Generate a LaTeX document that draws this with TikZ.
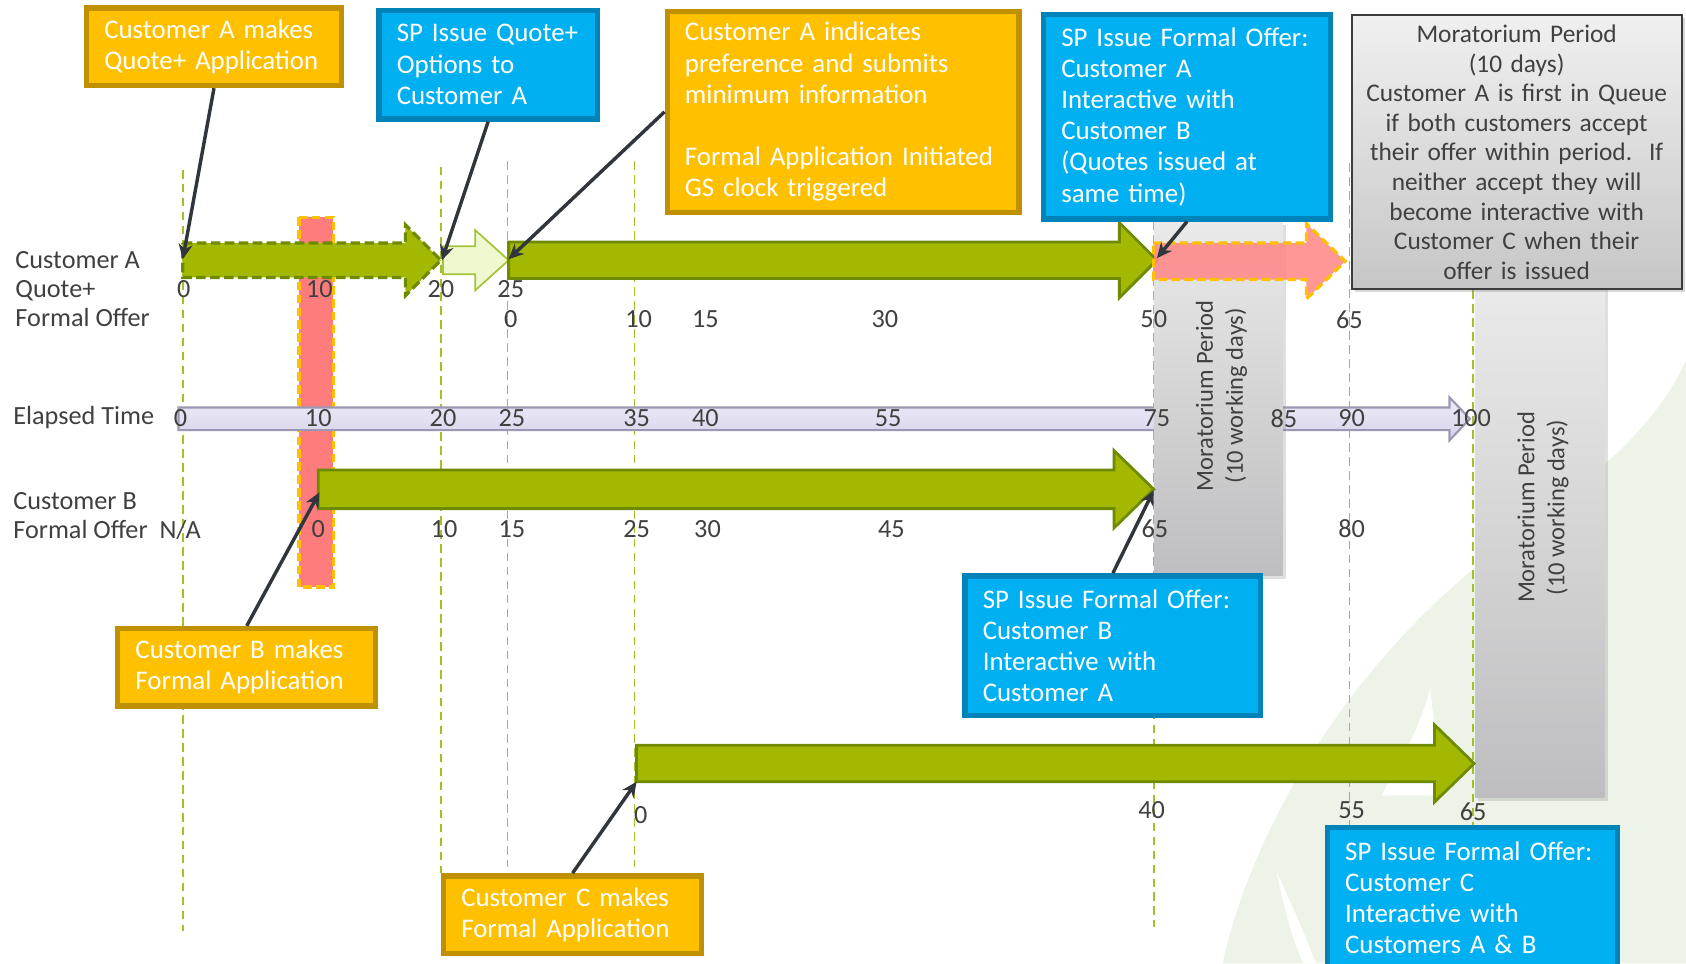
\documentclass[tikz,border=0pt]{standalone}
\usepackage{fontspec}
\setmainfont{Carlito}
\usetikzlibrary{arrows.meta,shadows}
\definecolor{orfill}{HTML}{FFC000}
\definecolor{ordraw}{HTML}{BF9000}
\definecolor{blfill}{HTML}{00B0F0}
\definecolor{bldraw}{HTML}{0083B8}
\definecolor{grfill}{HTML}{A3B800}
\definecolor{grdraw}{HTML}{6E8A00}
\definecolor{palefill}{HTML}{EEF9CF}
\definecolor{paledraw}{HTML}{A6C23A}
\definecolor{txt}{HTML}{404040}
\definecolor{vline}{HTML}{A2BF2C}
\definecolor{redbar}{HTML}{FF7C7C}
\definecolor{pinkarr}{HTML}{FF8585}
\definecolor{lavtop}{HTML}{EEECF8}
\definecolor{lavbot}{HTML}{D6D3EA}
\definecolor{lavdraw}{HTML}{9C98B4}
\definecolor{conncol}{HTML}{30363C}
\definecolor{leaf}{HTML}{EDF3E6}
\definecolor{coltop}{HTML}{EAEAEA}
\definecolor{colbot}{HTML}{BEBEC0}
\definecolor{gbtop}{HTML}{F0F0F0}
\definecolor{gbbot}{HTML}{C6C6C6}
\definecolor{gbdraw}{HTML}{3C3C3C}

% block arrow: [options]{start x}{centre y}{body half}{head base x}{head half}{tip x}
\newcommand\blockarrow[7][]{%
  \draw[#1] (#2,#3-#4) -- (#5,#3-#4) -- (#5,#3-#6) -- (#7,#3) -- (#5,#3+#6) -- (#5,#3+#4) -- (#2,#3+#4) -- cycle;}

\tikzset{
  callout/.style={line width=2.5pt, inner xsep=8.25pt, inner ysep=0pt, align=left,
    text=white, font=\fontsize{12.5}{14.5}\selectfont},
  obox/.style={callout, fill=orfill, draw=ordraw},
  bbox/.style={callout, fill=blfill, draw=bldraw},
  conn/.style={conncol, line width=1.6pt, -{Stealth[length=7pt,width=6.5pt]}},
  num/.style={text=txt, font=\fontsize{12.2}{13.5}\selectfont, inner sep=0pt},
  lbl/.style={text=txt, font=\fontsize{12.2}{13.5}\selectfont, inner sep=0pt, align=left, anchor=west},
  rot/.style={text=txt, font=\fontsize{11.4}{14}\selectfont, inner sep=0pt, align=center, rotate=90},
  vdash/.style={vline, line width=0.75pt, dash pattern=on 4pt off 2.5pt},
  garrow/.style={fill=grfill, draw=grdraw, line width=1.3pt, line join=miter},
  column/.style={top color=coltop, bottom color=colbot, draw=none,
    drop shadow={opacity=0.25, shadow xshift=1.5pt, shadow yshift=-1.5pt}},
}

\begin{document}
\begin{tikzpicture}[x=0.5pt,y=-0.5pt]
\fill[white] (0,0) rectangle (1568,896);
\useasboundingbox (0,0) rectangle (1568,896);

% faint leaf watermark
\fill[leaf] (1137,896) .. controls (1165,770) and (1250,630) .. (1367,532)
  .. controls (1440,470) and (1530,420) .. (1568,335) -- (1568,896) -- cycle;
\fill[white] (1330,640) .. controls (1320,680) and (1300,710) .. (1285,740)
  -- (1345,740) .. controls (1338,700) and (1333,670) .. cycle;
\fill[white] (1187,810) .. controls (1195,850) and (1203,875) .. (1212,896)
  -- (1224,896) .. controls (1210,860) and (1196,830) .. cycle;

% vertical dashed guide lines
\draw[vdash] (170,158) -- (170,866);
\draw[vdash] (410,155) -- (410,812);
\draw[vdash] (472,150) -- (472,806);
\draw[vdash] (590,150) -- (590,806);
\draw[vdash] (1073,206) -- (1073,862);
\draw[vdash] (1255,152) -- (1255,768);
\draw[vdash] (1370,270) -- (1370,770);

% red bar at elapsed 10
\draw[fill=redbar, draw=orfill, line width=1.5pt, dash pattern=on 4pt off 2pt] (278,202) rectangle (310,546);

% elapsed time bar
\blockarrow[top color=lavtop, bottom color=lavbot, draw=lavdraw, line width=1pt]{166}{389.5}{10.5}{1348}{20}{1367}

% moratorium columns
\path[column] (1073,206) rectangle (1193,535);
\path[column] (1372,265) rectangle (1492,742);

% customer A arrows
\blockarrow[garrow, dash pattern=on 4.5pt off 2pt, line width=1.5pt]{170}{242}{16}{377}{33}{410}
\blockarrow[fill=palefill, draw=paledraw, line width=0.8pt]{412}{242}{13}{442}{28}{473}
\blockarrow[garrow]{473}{242}{17}{1041}{35}{1076}
\blockarrow[fill=pinkarr, fill opacity=0.85, draw=orfill, line width=1.5pt, dash pattern=on 4pt off 2pt]{1073}{243}{17}{1215}{35}{1251}
% customer B arrow
\blockarrow[garrow]{296}{455}{18}{1036}{36}{1073}
% customer C arrow
\blockarrow[garrow]{592}{710}{17}{1334}{36}{1371}

% row labels
\node[lbl] (labA) at (14,269) {Customer A\\Quote+\\Formal Offer};
\node[lbl] (labT) at (12,388) {Elapsed Time};
\node[lbl] (labB) at (12,479.5) {Customer B\\Formal Offer\ \ N/A};

% numbers
\foreach \x/\t [count=\i] in {171/0,297/10,410/20,475/25}
  \node[num] (na\i) at (\x,269) {\t};
\foreach \x/\t [count=\i] in {475/0,594/10,656/15,823/30,1073/50,1255/65}
  \node[num] (nf\i) at (\x,297) {\t};
\foreach \x/\t [count=\i] in {168/0,296/10,412/20,476/25,592/35,656/40,826/55,1076/75,1194/85,1257/90,1368/100}
  \node[num] (ne\i) at (\x,389) {\t};
\foreach \x/\t [count=\i] in {296/0,413/10,476/15,592/25,658/30,829/45,1074/65,1257/80}
  \node[num] (nb\i) at (\x,492) {\t};
\node[num] (nc1) at (596,758) {0};
\node[num] (nc2) at (1071,753) {40};
\node[num] (nc3) at (1257,753) {55};
\node[num] (nc4) at (1370,755) {65};

% rotated moratorium texts
\node[rot] (mor1) at (1136,368) {Moratorium Period\\(10 working days)};
\node[rot] (mor2) at (1435,472) {Moratorium Period\\(10 working days)};

% callout boxes
\node[obox, minimum width=118.5pt, minimum height=36pt, text width=102pt] (o1) at (199,43.5)
  {Customer A makes\\Quote+ Application};
\node[bbox, minimum width=101.5pt, minimum height=50.5pt, text width=85pt] (b1) at (454,60)
  {SP Issue Quote+\\Options to\\Customer A};
\node[obox, minimum width=163.5pt, minimum height=93.5pt, text width=147pt] (o2) at (784,104)
  {Customer A indicates\\preference and submits\\minimum information\\[14.5pt]Formal Application Initiated\\GS clock triggered};
\node[bbox, minimum width=133.5pt, minimum height=95pt, text width=117pt] (b2) at (1104,108.5)
  {SP Issue Formal Offer:\\Customer A\\Interactive with\\Customer B\\(Quotes issued at\\same time)};
\node[obox, minimum width=120pt, minimum height=36pt, text width=103.5pt] (o3) at (229.5,620.5)
  {Customer B makes\\Formal Application};
\node[obox, minimum width=120pt, minimum height=36pt, text width=103.5pt] (o4) at (532.5,850.5)
  {Customer C makes\\Formal Application};
\node[bbox, minimum width=137.5pt, minimum height=65pt, text width=121pt] (b3) at (1035,600.5)
  {SP Issue Formal Offer:\\Customer B\\Interactive with\\Customer A};
\node[bbox, minimum width=135pt, minimum height=65.5pt, text width=118.5pt] (b4) at (1369.5,835)
  {SP Issue Formal Offer:\\Customer C\\Interactive with\\Customers A \& B};

% moratorium explanation box
\node[draw=gbdraw, line width=1pt, top color=gbtop, bottom color=gbbot,
  drop shadow={opacity=0.3, shadow xshift=1.5pt, shadow yshift=-1.5pt},
  minimum width=153.5pt, minimum height=127.5pt, text width=150pt, inner xsep=1.75pt, inner ysep=0pt,
  align=center, text=txt, font=\fontsize{11.8}{13.75}\selectfont] (g1) at (1410.5,141.5)
  {Moratorium Period\\(10 days)\\Customer A is first in Queue\\if both customers accept\\their offer within period.\ \ If\\neither accept they will\\become interactive with\\Customer C when their\\offer is issued};

% connector end points
\coordinate (pA0) at (170,241);
\coordinate (pA20) at (411,242);
\coordinate (pA25) at (473,241);
\coordinate (pA50) at (1076,240);
\coordinate (pB0) at (297,458);
\coordinate (pB65) at (1073,456);
\coordinate (pC0) at (592,727);

\draw[conn] (o1.south) -- (pA0);
\draw[conn] (b1.south) -- (pA20);
\draw[conn] (o2.west) -- (pA25);
\draw[conn] (b2.south) -- (pA50);
\draw[conn] (o3.north) -- (pB0);
\draw[conn] (b3.north) -- (pB65);
\draw[conn] (o4.north) -- (pC0);
\end{tikzpicture}
\end{document}
